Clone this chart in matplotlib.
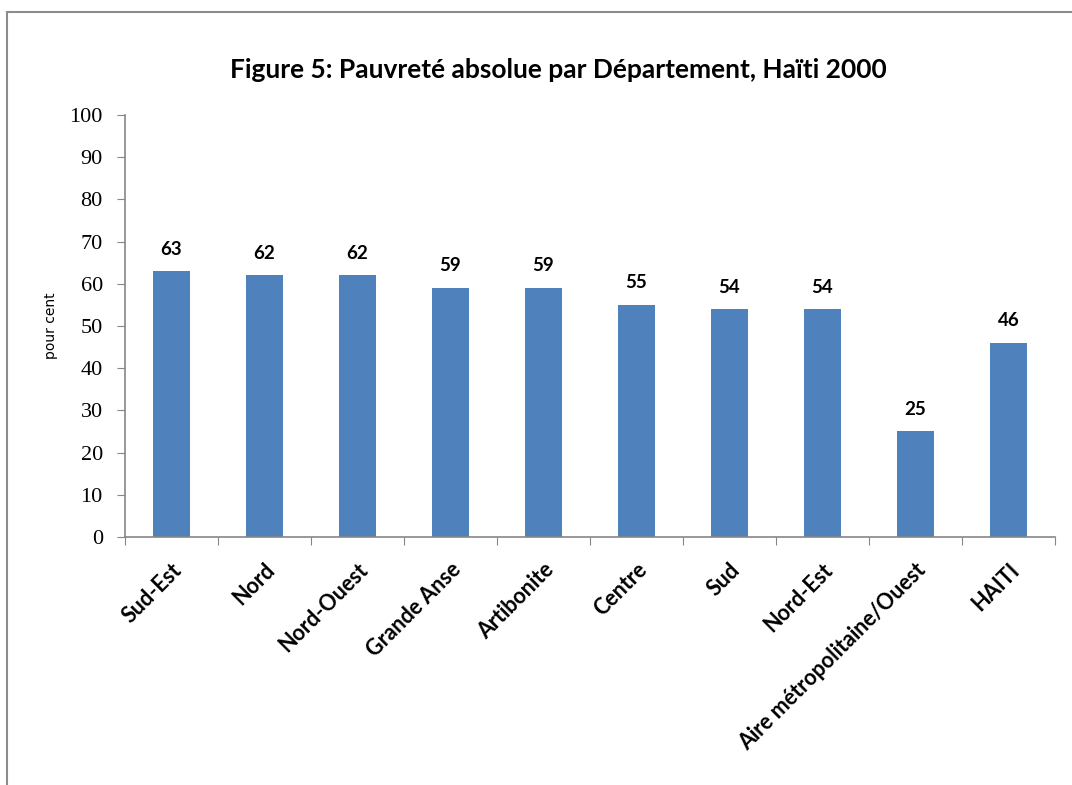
import numpy as np
import matplotlib
matplotlib.use('Agg')
import matplotlib.pyplot as plt
from matplotlib.patches import Rectangle

departements = ['Sud-Est', 'Nord', 'Nord-Ouest', 'Grande Anse', 'Artibonite',
                'Centre', 'Sud', 'Nord-Est', 'Aire métropolitaine/Ouest', 'HAITI']
pauvrete = [63, 62, 62, 59, 59, 55, 54, 54, 25, 46]
y_ticks = list(range(0, 101, 10))

bar_color = '#4F81BD'
axis_color = '#868686'
sans = ['Lato', 'DejaVu Sans']

fig = plt.figure(figsize=(10.72, 7.85), dpi=100)
ax = fig.add_axes([0.1166, 0.316, 0.8674, 0.5375])

# cadre gris autour du graphique (coupé à droite et en bas)
fig.patches.append(Rectangle((7 / 1072, -0.1), 1.2, 1.1 - 12 / 785,
                             transform=fig.transFigure, fill=False,
                             edgecolor='#8c8c8c', linewidth=1.5))

x = np.arange(len(departements))
bars = ax.bar(x, pauvrete, width=0.4, color=bar_color, zorder=2)

for xi, v in zip(x, pauvrete):
    ax.text(xi, v + 3.2, str(v), ha='center', va='bottom', fontsize=13.5,
            fontweight='bold', family=sans)

ax.set_xlim(-0.5, len(departements) - 0.5)
ax.set_ylim(0, 100)
ax.set_yticks(y_ticks)
ax.set_yticklabels([str(t) for t in y_ticks], family=['Liberation Serif'], fontsize=16)

# ticks entre les catégories
ax.set_xticks(np.arange(-0.5, len(departements), 1.0))
ax.set_xticklabels([])
ax.tick_params(axis='x', length=6, color=axis_color, direction='out')
ax.tick_params(axis='y', length=6, color=axis_color, direction='out', pad=10)
ax.set_xticks(x, minor=True)
ax.set_xticklabels(departements, minor=True, rotation=45, ha='right',
                   rotation_mode='anchor', fontsize=15.5, fontweight='bold',
                   family=sans)
ax.tick_params(axis='x', which='minor', length=0, pad=16)

for side in ['top', 'right']:
    ax.spines[side].set_visible(False)
for side in ['left', 'bottom']:
    ax.spines[side].set_color(axis_color)
    ax.spines[side].set_linewidth(1.2)

ax.set_ylabel('pour cent', fontsize=10, family=['Liberation Sans Narrow', 'DejaVu Sans'],
              labelpad=8)

fig.text(0.521, 1 - 70 / 785, 'Figure 5: Pauvreté absolue par Département, Haïti 2000',
         ha='center', va='center', fontsize=19, fontweight='bold', family=sans)

fig.savefig('out.png', dpi=100)
